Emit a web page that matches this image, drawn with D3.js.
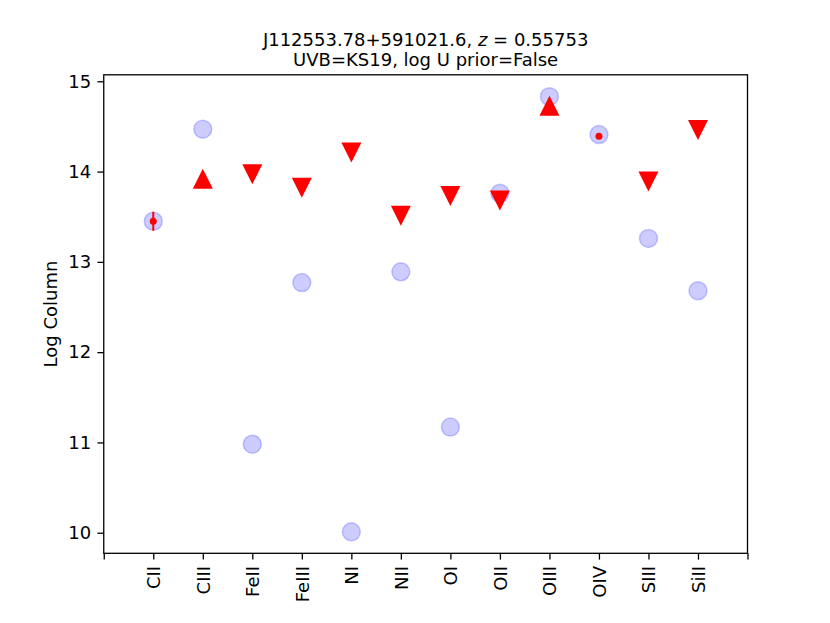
<!DOCTYPE html>
<html><head><meta charset="utf-8">
<script src="https://cdn.jsdelivr.net/npm/d3@7"></script>
<style>body{margin:0;background:#fff}svg{display:block}text{font-family:"DejaVu Sans",sans-serif}</style>
</head><body>
<svg id="c" width="830" height="623"></svg>
<script>
const ions = ["CII","CIII","FeII","FeIII","NI","NII","OI","OII","OIII","OIV","SIII","SiII"];
const modelValues = [13.45,14.47,10.98,12.77,10.01,12.89,11.17,13.76,14.83,14.41,13.26,12.68];
// observations: type d = detection, u = upper limit, l = lower limit
const obsValues = [13.45,13.92,13.97,13.82,14.21,13.51,13.73,13.68,14.73,14.39,13.89,14.46];
const obsTypes = ["d","l","u","u","u","u","u","u","l","d","u","u"];
const obsErrors = [0.105,0,0,0,0,0,0,0,0,0.02,0,0];
const yTicks = [10,11,12,13,14,15];

const svg = d3.select("#c");
const L=103.75,R=747.5,T=74.8,B=553.3;
const x = d3.scaleLinear().domain([-1,12]).range([L,R]);
const y = d3.scaleLinear().domain([10,15]).range([532.7,81.3]);
const FS = "18px";

// frame
svg.append("rect").attr("x",L).attr("y",T).attr("width",R-L).attr("height",B-T)
  .attr("fill","none").attr("stroke","#000").attr("stroke-width",1.3);

// x axis
const xTickVals = d3.range(-1,13);
const xa = svg.append("g").attr("transform",`translate(0,${B})`)
  .call(d3.axisBottom(x).tickValues(xTickVals).tickSize(6.3).tickPadding(6.3)
    .tickFormat(d => (d>=0 && d<ions.length) ? ions[d] : ""));
xa.select(".domain").remove();
xa.selectAll("text").attr("transform","rotate(-90)").attr("text-anchor","end")
  .attr("x",-12.6).attr("y",0).attr("dy","0.35em").style("font-size",FS).attr("fill","#000");
xa.selectAll("line").attr("stroke","#000").attr("stroke-width",1.3);

// y axis
const ya = svg.append("g").attr("transform",`translate(${L},0)`)
  .call(d3.axisLeft(y).tickValues(yTicks).tickSize(6.3).tickPadding(6.3).tickFormat(d3.format("d")));
ya.select(".domain").remove();
ya.selectAll("text").style("font-size",FS).attr("fill","#000");
ya.selectAll("line").attr("stroke","#000").attr("stroke-width",1.3);

svg.append("text").attr("transform",`translate(56.5,${(T+B)/2}) rotate(-90)`)
  .attr("text-anchor","middle").style("font-size",FS).text("Log Column");

// title
const t1 = svg.append("text").attr("x",(L+R)/2).attr("y",46).attr("text-anchor","middle").style("font-size",FS);
t1.append("tspan").text("J112553.78+591021.6, ");
t1.append("tspan").attr("font-style","italic").text("z");
t1.append("tspan").text(" = 0.55753");
svg.append("text").attr("x",(L+R)/2).attr("y",66).attr("text-anchor","middle").style("font-size",FS)
  .text("UVB=KS19, log U prior=False");

// model circles
svg.append("g").selectAll("circle").data(modelValues).join("circle")
  .attr("cx",(d,i)=>x(i)).attr("cy",d=>y(d)).attr("r",9)
  .attr("fill","rgba(0,0,255,0.2)").attr("stroke","rgba(0,0,255,0.2)").attr("stroke-width",1.5);

// observations
const g = svg.append("g");
const s = 10;
obsValues.forEach((v,i)=>{
  const cx=x(i), cy=y(v), t=obsTypes[i];
  if(t==="d"){
    if(obsErrors[i]>0) g.append("line").attr("x1",cx).attr("x2",cx).attr("y1",y(v-obsErrors[i])).attr("y2",y(v+obsErrors[i]))
      .attr("stroke","red").attr("stroke-width",2);
    g.append("circle").attr("cx",cx).attr("cy",cy).attr("r",3.5).attr("fill","red");
  } else if(t==="l"){
    g.append("path").attr("d",`M${cx},${cy-s}L${cx+s},${cy+s}L${cx-s},${cy+s}Z`).attr("fill","red");
  } else {
    g.append("path").attr("d",`M${cx},${cy+s}L${cx+s},${cy-s}L${cx-s},${cy-s}Z`).attr("fill","red");
  }
});
</script>
</body></html>
